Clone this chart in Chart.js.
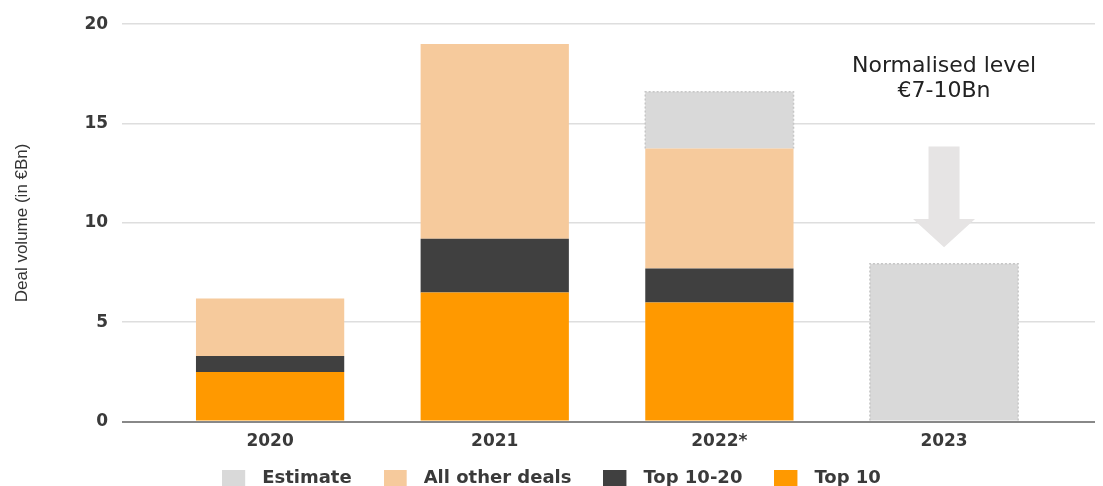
<!DOCTYPE html>
<html>
<head>
    <style>
        body, html {
            margin: 0;
            padding: 0;
            background: #ffffff;
        }
        #wrap {
            width: 1103px;
            height: 486px;
        }
    </style>
    <script src="https://cdn.jsdelivr.net/npm/chart.js"></script>
</head>
<body>
    <div id="wrap">
        <canvas id="dealChart" width="1103" height="486"></canvas>
    </div>

    <script>
        // categories and series (in €Bn)
        const years = ["2020", "2021", "2022*", "2023"];
        const top10 = [2.5, 6.5, 6.0, null];
        const top10to20 = [0.8, 2.7, 1.7, null];
        const otherDeals = [2.9, 9.8, 6.05, null];
        const estimate = [null, null, 2.85, 7.95];
        const yTicks = [0, 5, 10, 15, 20];

        // arrow annotation over 2023 (values on the y scale)
        const noteLines = ["Normalised level", "€7-10Bn"];
        const noteValues = [17.9, 16.6];
        const arrowFrom = 13.85;
        const arrowNeck = 10.2;
        const arrowTo = 8.77;

        const colors = ["#ff9900", "#404040", "#f6ca9c", "#d9d9d9"];

        const toPoints = arr => arr.map((v, i) => ({ x: i, y: v }));

        const tickFont = "'DejaVu Sans', Verdana, sans-serif";
        const titleFont = "'Liberation Sans', Arial, sans-serif";

        // legend swatch: 23px box with some empty room before the text
        function makeSwatch(color) {
            const c = document.createElement("canvas");
            c.width = 31;
            c.height = 16;
            const g = c.getContext("2d");
            g.fillStyle = color;
            g.fillRect(0, 0, 23, 16);
            return c;
        }
        const swatches = colors.map(makeSwatch);

        // legend sits closer to the axis than Chart.js would put it
        const legendSqueeze = {
            id: "legendSqueeze",
            beforeInit(chart) {
                const legend = chart.legend;
                const origFit = legend.fit;
                const origDraw = legend.draw;
                legend.fit = function () {
                    origFit.call(this);
                    this.height = 24;
                };
                legend.draw = function (area) {
                    const t = this.top;
                    this.top -= 25;
                    origDraw.call(this, area);
                    this.top = t;
                };
            }
        };

        const estimateOutline = {
            id: "estimateOutline",
            afterDatasetsDraw(chart) {
                const meta = chart.getDatasetMeta(3);
                const ctx = chart.ctx;
                ctx.save();
                ctx.strokeStyle = "#c6c6c6";
                ctx.lineWidth = 1.5;
                ctx.setLineDash([2, 2]);
                meta.data.forEach((bar, i) => {
                    if (estimate[i] == null) return;
                    const p = bar.getProps(["x", "y", "base", "width"], true);
                    const l = p.x - p.width / 2, r = p.x + p.width / 2;
                    ctx.beginPath();
                    ctx.moveTo(l, p.base);
                    ctx.lineTo(l, p.y);
                    ctx.lineTo(r, p.y);
                    ctx.lineTo(r, p.base);
                    ctx.stroke();
                });
                ctx.restore();
            }
        };

        const normalisedNote = {
            id: "normalisedNote",
            afterDatasetsDraw(chart) {
                const xs = chart.scales.x, ys = chart.scales.y;
                const ctx = chart.ctx;
                const cx = xs.getPixelForValue(3);
                ctx.save();
                // arrow
                const yA = ys.getPixelForValue(arrowFrom);
                const yN = ys.getPixelForValue(arrowNeck);
                const yT = ys.getPixelForValue(arrowTo);
                ctx.fillStyle = "#e6e4e4";
                ctx.beginPath();
                ctx.moveTo(cx - 15.5, yA);
                ctx.lineTo(cx + 15.5, yA);
                ctx.lineTo(cx + 15.5, yN);
                ctx.lineTo(cx + 31, yN);
                ctx.lineTo(cx, yT);
                ctx.lineTo(cx - 31, yN);
                ctx.lineTo(cx - 15.5, yN);
                ctx.closePath();
                ctx.fill();
                // text
                ctx.fillStyle = "#222222";
                ctx.font = "22px 'DejaVu Sans', sans-serif";
                ctx.textAlign = "center";
                ctx.textBaseline = "middle";
                noteLines.forEach((t, i) => {
                    ctx.fillText(t, cx, ys.getPixelForValue(noteValues[i]));
                });
                ctx.restore();
            }
        };

        const barStyle = { barPercentage: 0.66, categoryPercentage: 1.0, borderWidth: 0 };

        const dealChart = new Chart(document.getElementById("dealChart"), {
            type: "bar",
            data: {
                datasets: [
                    Object.assign({ label: "Top 10", data: toPoints(top10), backgroundColor: colors[0] }, barStyle),
                    Object.assign({ label: "Top 10-20", data: toPoints(top10to20), backgroundColor: colors[1] }, barStyle),
                    Object.assign({ label: "All other deals", data: toPoints(otherDeals), backgroundColor: colors[2] }, barStyle),
                    Object.assign({ label: "Estimate", data: toPoints(estimate), backgroundColor: colors[3] }, barStyle)
                ]
            },
            options: {
                responsive: false,
                animation: false,
                layout: { padding: { left: 8, right: 8, top: 14, bottom: 0 } },
                plugins: {
                    tooltip: { enabled: false },
                    legend: {
                        position: "bottom",
                        reverse: true,
                        labels: {
                            usePointStyle: true,
                            pointStyleWidth: 31,
                            boxHeight: 16,
                            padding: 32,
                            color: "#3a3a3a",
                            font: { family: tickFont, size: 18, weight: "bold" },
                            generateLabels: chart =>
                                Chart.defaults.plugins.legend.labels.generateLabels(chart).map(item => {
                                    item.pointStyle = swatches[item.datasetIndex];
                                    return item;
                                })
                        }
                    }
                },
                scales: {
                    x: {
                        type: "linear",
                        stacked: true,
                        offset: false,
                        min: -0.659,
                        max: 3.672,
                        grid: { display: false, drawTicks: false },
                        border: { display: false },
                        afterBuildTicks: axis => {
                            axis.ticks = years.map((y, i) => ({ value: i }));
                        },
                        ticks: {
                            color: "#3a3a3a",
                            padding: 10,
                            maxRotation: 0,
                            font: { family: tickFont, size: 17, weight: "bold" },
                            callback: v => years[v]
                        }
                    },
                    y: {
                        stacked: true,
                        min: 0,
                        max: 20,
                        afterBuildTicks: axis => {
                            axis.ticks = yTicks.map(v => ({ value: v }));
                        },
                        grid: {
                            drawTicks: false,
                            lineWidth: ctx => ctx.tick && ctx.tick.value === 0 ? 2 : 1.5,
                            color: ctx => ctx.tick && ctx.tick.value === 0 ? "#888888" : "#dedede"
                        },
                        border: { display: false },
                        ticks: {
                            color: "#3a3a3a",
                            padding: 14,
                            font: { family: tickFont, size: 17, weight: "bold" }
                        },
                        title: {
                            display: true,
                            text: "Deal volume (in €Bn)",
                            color: "#333333",
                            padding: { top: 4, bottom: 38 },
                            font: { family: titleFont, size: 17 }
                        }
                    }
                }
            },
            plugins: [legendSqueeze, estimateOutline, normalisedNote]
        });
    </script>
</body>
</html>
